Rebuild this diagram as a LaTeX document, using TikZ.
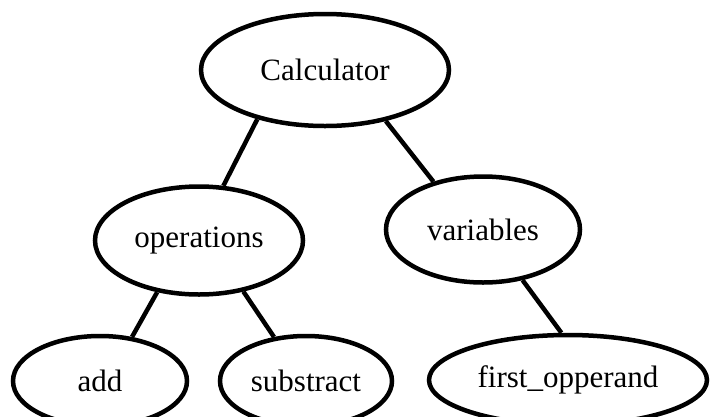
\documentclass[tikz,border=0pt]{standalone}
\usepackage{fontspec}
\setmainfont{Liberation Serif}
\usepackage{tikz}
\usetikzlibrary{shapes.geometric, positioning}

\begin{document}
\begin{tikzpicture}[x=1pt, y=1pt, line width=4.5pt,
  font=\fontsize{31}{36}\selectfont,
  oval/.style={draw, ellipse, inner sep=0pt, align=center}]
  \useasboundingbox (0,0) rectangle (715,-416);
  \node[oval, minimum width=248pt, minimum height=112pt] (calc) at (325,-70) {Calculator};
  \node[oval, minimum width=208pt, minimum height=108pt, below=56pt of calc, xshift=-126pt] (ops) {operations};
  \node[oval, minimum width=194pt, minimum height=106pt, below=46pt of calc, xshift=158pt] (vars) {variables};
  \node[oval, minimum width=174pt, minimum height=90pt, below=37pt of ops, xshift=-99pt] (add) {add};
  \node[oval, minimum width=172pt, minimum height=90pt, below=37pt of ops, xshift=107pt] (sub) {substract};
  \node[oval, minimum width=278pt, minimum height=90pt, below=48pt of vars, xshift=85pt] (first) {first\_opperand};
  \draw (calc.216) -- (ops.66);
  \draw (calc.320) -- (vars.136);
  \draw (ops.231) -- (add.54);
  \draw (ops.311) -- (sub.126);
  \draw (vars.308) -- (first.98);
\end{tikzpicture}
\end{document}
